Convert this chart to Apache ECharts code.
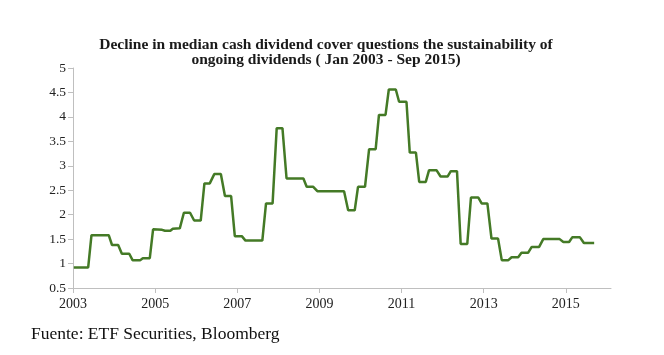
<!DOCTYPE html>
<html>
<head>
<meta charset="utf-8">
<script src="https://cdn.jsdelivr.net/npm/echarts@6/dist/echarts.min.js"></script>
<style>
html,body{margin:0;padding:0;background:#fff;}
#chart{width:664px;height:355px;}
</style>
</head>
<body>
<div id="chart"></div>
<script>
// Dates in decimal years, values = median cash dividend cover
const dates = [2003.02,2003.37,2003.45,2003.87,2003.95,2004.10,2004.19,2004.37,2004.45,2004.64,2004.70,2004.87,2004.95,2005.17,2005.24,2005.37,2005.43,2005.60,
  2005.70,2005.85,2005.95,2006.11,2006.20,2006.33,2006.44,2006.60,2006.70,2006.85,2006.94,2007.11,2007.20,2007.61,2007.70,2007.86,2007.96,2008.10,
  2008.20,2008.61,2008.69,2008.85,2008.95,2009.60,2009.70,2009.86,2009.94,2010.11,2010.21,2010.37,2010.45,2010.61,2010.69,2010.86,
  2010.94,2011.12,2011.20,2011.35,2011.43,2011.59,2011.67,2011.85,2011.95,2012.12,2012.20,2012.35,2012.44,2012.60,2012.69,2012.87,2012.95,2013.09,
  2013.19,2013.35,2013.44,2013.60,2013.68,2013.84,2013.92,2014.08,2014.17,2014.35,2014.45,2014.85,2014.94,2015.08,2015.16,2015.34,2015.44,2015.69];
const values = [0.92,0.92,1.58,1.58,1.38,1.38,1.20,1.20,1.07,1.07,1.11,1.11,1.70,1.69,1.67,1.67,1.71,1.72,
  2.04,2.04,1.88,1.88,2.64,2.64,2.83,2.83,2.38,2.38,1.56,1.56,1.47,1.47,2.23,2.23,3.77,3.77,
  2.74,2.74,2.57,2.57,2.48,2.48,2.09,2.09,2.57,2.57,3.34,3.34,4.04,4.04,4.56,4.56,
  4.31,4.31,3.27,3.27,2.67,2.67,2.91,2.91,2.78,2.78,2.89,2.89,1.40,1.40,2.35,2.35,2.23,2.23,
  1.51,1.51,1.07,1.07,1.13,1.13,1.22,1.22,1.34,1.34,1.50,1.50,1.44,1.44,1.54,1.54,1.42,1.42];
const xTicks = [2003,2005,2007,2009,2011,2013,2015];
const yMin = 0.5, yMax = 5, yStep = 0.5;
const titleText = 'Decline in median cash dividend cover questions the sustainability of\nongoing dividends ( Jan 2003 - Sep 2015)';
const sourceText = 'Fuente: ETF Securities, Bloomberg';

const chart = echarts.init(document.getElementById('chart'), null, {renderer:'canvas'});
const serif = 'Liberation Serif';
chart.setOption({
  animation:false,
  backgroundColor:'#fff',
  title:[{
    text:titleText, left:321, top:32, textAlign:'center',
    textStyle:{fontFamily:serif, fontWeight:'bold', fontSize:15.5, lineHeight:15, color:'#1a1a1a'}
  },{
    text:sourceText, left:26, top:320,
    textStyle:{fontFamily:serif, fontWeight:'normal', fontSize:17.5, color:'#111'}
  }],
  grid:{left:73, right:53, top:68, bottom:67, containLabel:false},
  xAxis:{
    type:'value', min:2003, max:2016.1,
    axisLine:{lineStyle:{color:'#bfbfbf', width:1}},
    axisTick:{show:true, customValues:xTicks, length:5, lineStyle:{color:'#bfbfbf'}},
    axisLabel:{customValues:xTicks, margin:9, fontFamily:serif, fontSize:14, color:'#222', formatter:v=>String(v)},
    splitLine:{show:false}
  },
  yAxis:{
    type:'value', min:yMin, max:yMax, interval:yStep,
    axisLine:{show:true, lineStyle:{color:'#bfbfbf', width:1}},
    axisTick:{show:true, length:5, lineStyle:{color:'#bfbfbf'}},
    axisLabel:{margin:7, fontFamily:serif, fontSize:13.5, color:'#222'},
    splitLine:{show:false}
  },
  series:[{
    type:'line',
    data:dates.map((d,i)=>[d, values[i]]),
    showSymbol:false, symbol:'none',
    lineStyle:{color:'#447a26', width:2.5},
    itemStyle:{color:'#447a26'}
  }]
});
</script>
</body>
</html>
